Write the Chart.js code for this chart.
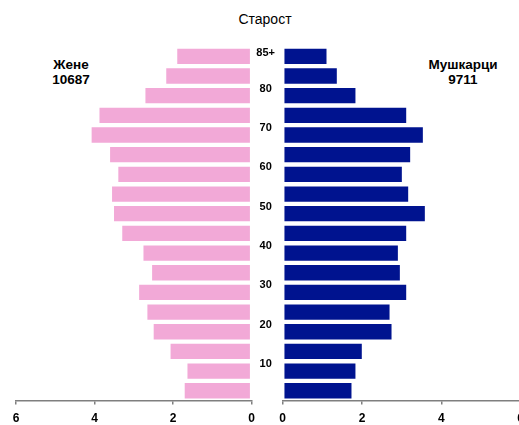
<!DOCTYPE html>
<html>
<head>
<meta charset="utf-8">
<script src="https://cdn.jsdelivr.net/npm/chart.js@4/dist/chart.umd.min.js"></script>
<style>
  html, body { margin:0; padding:0; width:519px; height:425px; overflow:hidden; background:#fff; }
  body { position:relative; font-family:"Liberation Sans", Arial, sans-serif; }
  canvas { position:absolute; top:0; }
  .lbl { position:absolute; color:#000; text-align:center; white-space:nowrap; }
</style>
</head>
<body>
<div class="lbl" style="left:205px; width:120px; top:11px; font-size:14px; line-height:17px;">Старост</div>
<div class="lbl" style="left:21px; width:100px; top:57px; font-size:13.5px; font-weight:bold; line-height:15px;">Жене<br>10687</div>
<div class="lbl" style="left:413px; width:100px; top:57px; font-size:13.5px; font-weight:bold; line-height:15px;">Мушкарци<br>9711</div>
<canvas id="left" width="262" height="425" style="left:0px; width:262px; height:425px;"></canvas>
<canvas id="right" width="285" height="425" style="left:250px; width:285px; height:425px;"></canvas>
<script>
// Age groups, youngest to oldest
const ageGroups = ['0-4','5-9','10-14','15-19','20-24','25-29','30-34','35-39','40-44','45-49','50-54','55-59','60-64','65-69','70-74','75-79','80-84','85+'];
// Percent of population
const women = [1.73, 1.66, 2.09, 2.52, 2.68, 2.89, 2.56, 2.78, 3.32, 3.53, 3.58, 3.42, 3.63, 4.10, 3.90, 2.73, 2.20, 1.92];
const men   = [1.76, 1.86, 2.02, 2.77, 2.72, 3.14, 2.98, 2.93, 3.14, 3.61, 3.19, 3.03, 3.24, 3.56, 3.14, 1.86, 1.39, 1.13];
// Age axis labels
const ageTickValues = [10, 20, 30, 40, 50, 60, 70, 80, 89];
const ageTickLabels = ['10', '20', '30', '40', '50', '60', '70', '80', '85+'];
const xTickStep = 2;
const xMax = 6;

const FONT = '"Liberation Sans", Arial, sans-serif';
const AXIS_GRAY = '#7f7f7f';
const PINK = '#F2A9D7';
const BLUE = '#00138F';

function xAxis(reverse) {
  return {
    type: 'linear', min: 0, max: xMax, reverse: reverse,
    ticks: { stepSize: xTickStep, color: '#000', padding: 7,
             font: { family: FONT, size: 12, weight: 'bold' } },
    grid: { drawOnChartArea: false, drawTicks: true, tickLength: 4, color: AXIS_GRAY, lineWidth: 1.5 },
    border: { display: true, color: AXIS_GRAY, width: 1.5 },
    afterFit: (s) => { s.height = 24.4; }
  };
}

function catAxis() {
  return { type: 'category', reverse: true, display: false, grid: { display: false } };
}

function dataset(values, color) {
  return {
    data: values,
    backgroundColor: color,
    borderColor: 'rgba(255,255,255,0.65)',
    borderWidth: 1,
    borderSkipped: false,
    barPercentage: 0.88,
    categoryPercentage: 1.0
  };
}

const common = {
  indexAxis: 'y',
  responsive: false,
  maintainAspectRatio: false,
  animation: false,
  devicePixelRatio: window.devicePixelRatio || 1,
  plugins: { legend: { display: false }, tooltip: { enabled: false }, title: { display: false } }
};

// Draw the age labels in the gap, positioned by the hidden 'age' linear scale
const ageLabelPlugin = {
  id: 'ageLabels',
  afterDraw(chart) {
    const s = chart.scales.age;
    const ctx = chart.ctx;
    ctx.save();
    ctx.font = 'bold 11px ' + FONT;
    ctx.fillStyle = '#000';
    ctx.textAlign = 'center';
    ctx.textBaseline = 'middle';
    ageTickValues.forEach((v, i) => {
      ctx.fillText(ageTickLabels[i], chart.chartArea.left - 17, s.getPixelForValue(v));
    });
    ctx.restore();
  }
};

new Chart(document.getElementById('left'), {
  type: 'bar',
  data: { labels: ageGroups, datasets: [dataset(women, PINK)] },
  options: Object.assign({}, common, {
    layout: { padding: { left: 16, right: 9.7, top: 46.5, bottom: 0 } },
    scales: { x: xAxis(true), y: catAxis() }
  })
});

new Chart(document.getElementById('right'), {
  type: 'bar',
  data: { labels: ageGroups, datasets: [dataset(men, BLUE)] },
  options: Object.assign({}, common, {
    layout: { padding: { left: 32.7, right: 14.4, top: 46.5, bottom: 0 } },
    scales: {
      x: xAxis(false),
      y: catAxis(),
      age: {
        type: 'linear', position: 'left', axis: 'y', min: 0.7, max: 90.7,
        offset: false, display: false,
        grid: { display: false, offset: false }
      }
    }
  }),
  plugins: [ageLabelPlugin]
});
</script>
</body>
</html>
